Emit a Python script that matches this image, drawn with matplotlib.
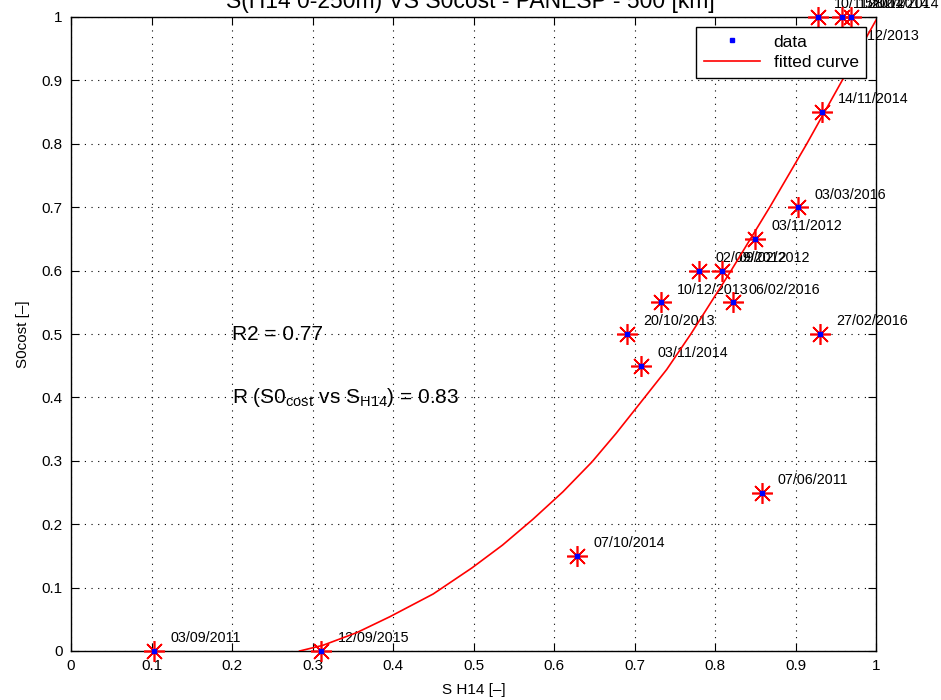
import matplotlib
matplotlib.use('Agg')
import matplotlib.pyplot as plt
from matplotlib.lines import Line2D

plt.rcParams['font.family'] = ['Liberation Sans', 'DejaVu Sans']
plt.rcParams['mathtext.fontset'] = 'custom'
plt.rcParams['mathtext.rm'] = 'Liberation Sans'
plt.rcParams['mathtext.it'] = 'Liberation Sans'

# event data: S H14 vs S0cost, one date per event
s_h14 = [0.103, 0.311, 0.629, 0.858, 0.708, 0.691, 0.930, 0.733, 0.822,
         0.780, 0.809, 0.850, 0.903, 0.933, 0.945, 0.928, 0.958, 0.969]
s0cost = [0.00, 0.00, 0.15, 0.25, 0.45, 0.50, 0.50, 0.55, 0.55,
          0.60, 0.60, 0.65, 0.70, 0.85, 0.95, 1.00, 1.00, 1.00]
dates = ['03/09/2011', '12/09/2015', '07/10/2014', '07/06/2011', '03/11/2014',
         '20/10/2013', '27/02/2016', '10/12/2013', '06/02/2016', '02/09/2012',
         '09/02/2012', '03/11/2012', '03/03/2016', '14/11/2014', '16/12/2013',
         '10/11/2014', '15/02/2014', '28/01/2014']

# fitted curve, sampled
fit_x = [0.284, 0.313, 0.355, 0.396, 0.450, 0.498, 0.536, 0.574, 0.611,
         0.647, 0.677, 0.707, 0.740, 0.770, 0.820, 0.868, 0.914, 0.958, 1.000]
fit_y = [0.000, 0.009, 0.029, 0.054, 0.090, 0.131, 0.167, 0.208, 0.251,
         0.298, 0.343, 0.391, 0.444, 0.500, 0.600, 0.700, 0.800, 0.900, 0.995]

r2 = 0.77
r_corr = 0.83

fig = plt.figure(figsize=(9.41, 7), dpi=100)
ax = fig.add_axes([71 / 941, 49 / 700, 805 / 941, 634 / 700])

ax.plot(fit_x, fit_y, color='red', lw=1.2, zorder=3)
ax.plot(s_h14, s0cost, linestyle='', marker=(8, 2, 0), ms=15, mew=1.2,
        color='red', clip_on=False, zorder=4)
ax.plot(s_h14, s0cost, linestyle='', marker='s', ms=3, color='blue',
        mec='blue', clip_on=False, zorder=5)

for x, y, d in zip(s_h14, s0cost, dates):
    ax.text(x + 0.02, y + 0.02, d, fontsize=10.3, va='center', ha='left',
            clip_on=False, zorder=2)

ax.text(0.20, 0.50, 'R2 = %.2f' % r2, fontsize=15, va='center')
ax.text(0.20, 0.40, r'R (S0$_{\rm cost}$ vs S$_{\rm H14}$) = %.2f' % r_corr,
        fontsize=15, va='center')

ax.set_xlim(0, 1)
ax.set_ylim(0, 1)
ax.set_xticks([i / 10 for i in range(11)])
ax.set_yticks([i / 10 for i in range(11)])
ax.set_xticklabels(['0', '0.1', '0.2', '0.3', '0.4', '0.5', '0.6', '0.7', '0.8', '0.9', '1'])
ax.set_yticklabels(['0', '0.1', '0.2', '0.3', '0.4', '0.5', '0.6', '0.7', '0.8', '0.9', '1'])
ax.tick_params(direction='in', top=True, right=True, length=6, width=0.8,
               labelsize=11, pad=6)
ax.grid(True, linestyle=(0, (1, 5)), color='black', lw=0.8)
for sp in ax.spines.values():
    sp.set_linewidth(1.0)

ax.set_xlabel('S H14 [–]', fontsize=11, labelpad=7)
ax.set_ylabel('S0cost [–]', fontsize=11, labelpad=8)

handles = [Line2D([], [], linestyle='', marker='s', ms=3, color='blue'),
           Line2D([], [], color='red', lw=1.2)]
leg = ax.legend(handles, ['data', 'fitted curve'], loc='upper right',
                fontsize=12.5, fancybox=False, edgecolor='black', framealpha=1,
                handlelength=3.2, labelspacing=0.3, borderaxespad=0.55,
                borderpad=0.45)
leg.get_frame().set_linewidth(1.0)
leg.set_zorder(10)

fig.text(0.5, 692 / 700, 'S(H14 0-250m) VS S0cost - PANESP - 500 [km]',
         fontsize=16.5, ha='center', va='baseline')

fig.savefig('out.png', dpi=100)
